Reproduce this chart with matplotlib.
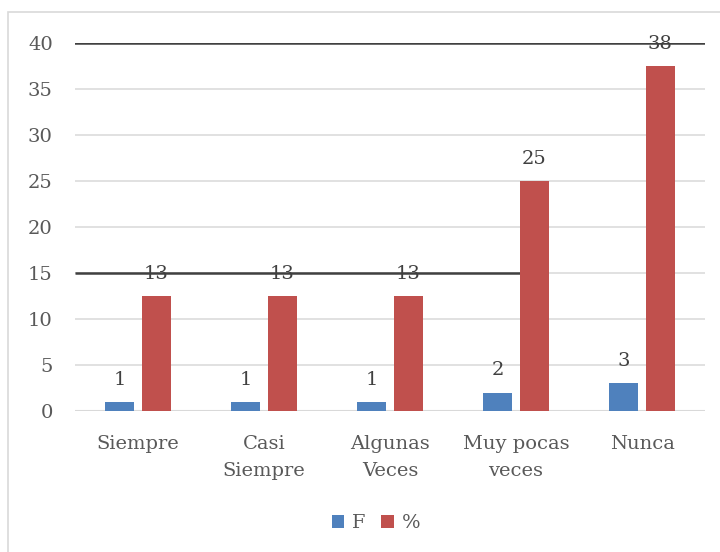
import matplotlib
matplotlib.use("Agg")
import matplotlib.pyplot as plt
import numpy as np
from matplotlib.patches import Rectangle

categories = ["Siempre", "Casi\nSiempre", "Algunas\nVeces", "Muy pocas\nveces", "Nunca"]
f_values = [1, 1, 1, 2, 3]
pct_values = [12.5, 12.5, 12.5, 25, 37.5]
pct_labels = ["13", "13", "13", "25", "38"]
f_labels = ["1", "1", "1", "2", "3"]
yticks = [0, 5, 10, 15, 20, 25, 30, 35, 40]
dark_lines = [40, 15]

plt.rcParams['font.family'] = ['DejaVu Serif']
txt = '#595959'

fig = plt.figure(figsize=(7.2, 5.52), dpi=100)
fig.patches.append(Rectangle((8/720, -0.1), 1.2, 1 - 12/552 + 0.1, transform=fig.transFigure,
                             fill=False, edgecolor='#d9d9d9', linewidth=1.2))
ax = fig.add_axes([75/720, 1 - 411/552, 630/720, (411 - 43)/552])

x = np.arange(len(categories))
w = 0.23
off = 0.143
b1 = ax.bar(x - off, f_values, w, color='#4f81bd', label='F', zorder=3)
b2 = ax.bar(x + off, pct_values, w, color='#c0504d', label='%', zorder=3)

for bars, labs in ((b1, f_labels), (b2, pct_labels)):
    for b, l in zip(bars, labs):
        ax.annotate(l, (b.get_x() + b.get_width()/2, b.get_height()), xytext=(0, 16),
                    textcoords='offset points', ha='center', va='center',
                    fontsize=14, color='#404040', zorder=4)

ax.set_xlim(-0.5, len(categories) - 0.5)
ax.set_ylim(0, 40)
ax.set_yticks(yticks)
for yv in yticks:
    if yv == 0:
        ax.axhline(yv, color='#d9d9d9', lw=1.5, zorder=1)
    else:
        ax.axhline(yv, color='#d9d9d9', lw=1.1, zorder=1)
ax.axhline(dark_lines[0], color='#404040', lw=1.8, zorder=2)
ax.hlines(dark_lines[1], -0.5, x[3] + off - w/2, color='#404040', lw=1.8, zorder=2)

ax.set_xticks(x)
ax.set_xticklabels(categories, fontsize=14, color=txt, linespacing=1.65)
ax.tick_params(axis='x', length=0, pad=17)
ax.tick_params(axis='y', length=0, pad=16, labelsize=14, labelcolor=txt)
for s in ax.spines.values():
    s.set_visible(False)

leg = fig.legend(handles=[b1, b2], labels=['F', '%'], loc='center', bbox_to_anchor=(376/720, 1 - 523/552),
                 ncol=2, frameon=False, fontsize=14, handlelength=0.65, handleheight=0.65,
                 handletextpad=0.4, columnspacing=0.8)
for t in leg.get_texts():
    t.set_color(txt)

fig.savefig('out.png', dpi=100)
